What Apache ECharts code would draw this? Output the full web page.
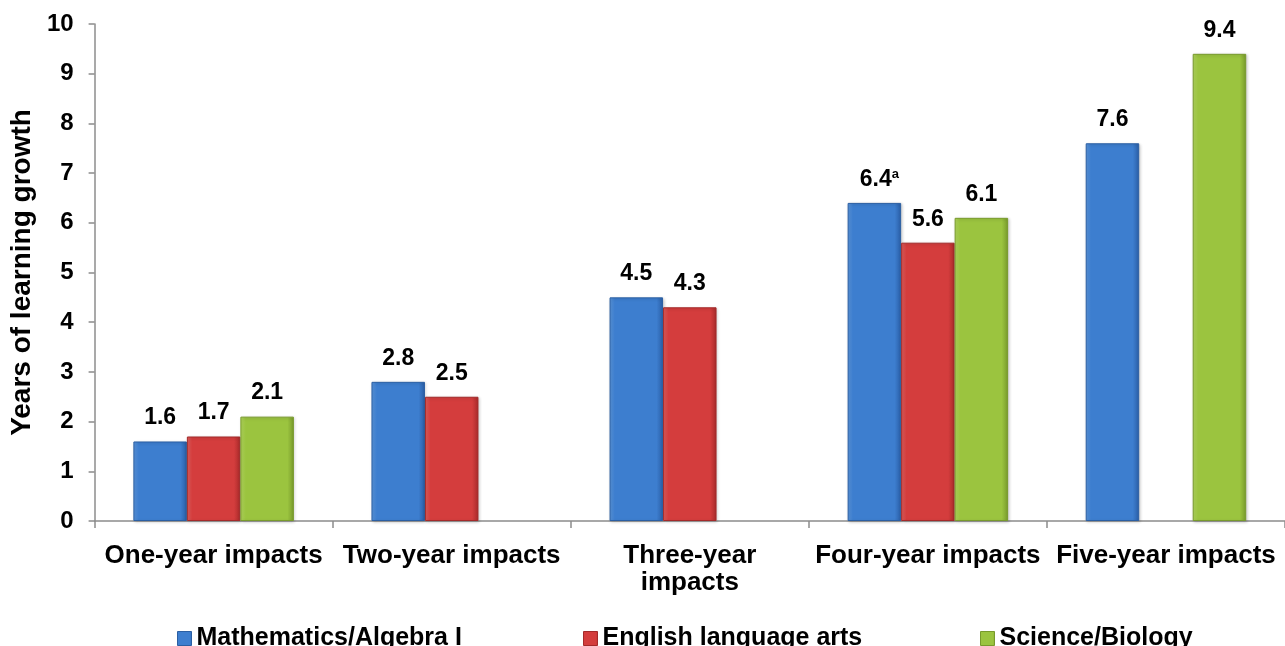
<!DOCTYPE html>
<html>
<head>
<meta charset="utf-8">
<script src="https://cdn.jsdelivr.net/npm/echarts@6/dist/echarts.min.js"></script>
<style>
  html, body { margin: 0; padding: 0; background: #ffffff; }
  #chart { width: 1285px; height: 646px; }
</style>
</head>
<body>
<div id="chart"></div>
<script>
// Impact periods along the horizontal axis
const categories = ['One-year impacts', 'Two-year impacts', 'Three-year\nimpacts', 'Four-year impacts', 'Five-year impacts'];

// Years of learning growth per subject (null = no estimate for that period)
const mathValues    = [1.6, 2.8, 4.5, 6.4, 7.6];
const elaValues     = [1.7, 2.5, 4.3, 5.6, null];
const scienceValues = [2.1, null, null, 6.1, 9.4];

const seriesNames = ['Mathematics/Algebra I', 'English language arts', 'Science/Biology'];

// Value ticks on the vertical axis
const yTicks = [0, 1, 2, 3, 4, 5, 6, 7, 8, 9, 10];

const FONT = '"Liberation Sans", Arial, sans-serif';

// Horizontal shading gives each bar a bevelled look
function barFill(light, mid, dark) {
  return new echarts.graphic.LinearGradient(0, 0, 1, 0, [
    { offset: 0, color: light },
    { offset: 0.1, color: mid },
    { offset: 0.88, color: mid },
    { offset: 1, color: dark }
  ]);
}

const palette = [
  { fill: barFill('#5b97de', '#3d7ecf', '#2a5ea6'), border: '#2b5fa3' },
  { fill: barFill('#e0605f', '#d43d3d', '#a82a2a'), border: '#a32a2a' },
  { fill: barFill('#b3d85e', '#9bc43f', '#789a2c'), border: '#789a2c' }
];

const valueSets = [mathValues, elaValues, scienceValues];

function labelFor(seriesIndex, value, dataIndex) {
  // The four-year mathematics estimate carries footnote "a"
  if (seriesIndex === 0 && dataIndex === 3) return value.toFixed(1) + '{sup|a}';
  return value.toFixed(1);
}

const series = valueSets.map((vals, s) => ({
  name: seriesNames[s],
  type: 'bar',
  barWidth: 53.5,
  barGap: '0%',
  data: vals.map((v, i) => {
    if (v === null) return null;
    const item = { value: v };
    if (s === 0 && i === 3) item.label = { offset: [5, 0] };
    return item;
  }),
  itemStyle: {
    color: palette[s].fill,
    borderColor: palette[s].border,
    borderWidth: 1,
    shadowColor: 'rgba(0,0,0,0.18)',
    shadowBlur: 3,
    shadowOffsetX: 1,
    shadowOffsetY: 1
  },
  label: {
    show: true,
    position: 'top',
    distance: 12,
    fontFamily: FONT,
    fontWeight: 'bold',
    fontSize: 23,
    color: '#000',
    formatter: p => labelFor(s, p.value, p.dataIndex),
    rich: {
      sup: { fontFamily: FONT, fontWeight: 'bold', fontSize: 13, color: '#000', verticalAlign: 'top', padding: [0, 0, 10, 0] }
    }
  }
}));

const legendLefts = [177, 583, 980];
const legends = seriesNames.map((name, i) => ({
  data: [{ name: name, itemStyle: { color: palette[i].fill, borderColor: palette[i].border, borderWidth: 1 } }],
  left: legendLefts[i],
  top: 626,
  padding: 0,
  itemWidth: 14,
  itemHeight: 14,
  icon: 'rect',
  selectedMode: false,
  textStyle: { fontFamily: FONT, fontWeight: 'bold', fontSize: 25, color: '#000' }
}));

const chart = echarts.init(document.getElementById('chart'), null, { renderer: 'canvas' });
chart.setOption({
  animation: false,
  backgroundColor: '#ffffff',
  grid: { left: 91, top: 24, height: 497, width: 1201 },
  legend: legends,
  xAxis: {
    type: 'category',
    data: categories,
    axisLine: { lineStyle: { color: '#8c8c8c', width: 1.5 } },
    axisTick: { show: true, length: 7, lineStyle: { color: '#8c8c8c', width: 1.5 } },
    axisLabel: {
      interval: 0,
      margin: 21,
      fontFamily: FONT,
      fontWeight: 'bold',
      fontSize: 26,
      lineHeight: 27,
      color: '#000'
    },
    splitLine: { show: false }
  },
  yAxis: {
    type: 'value',
    min: yTicks[0],
    max: yTicks[yTicks.length - 1],
    interval: 1,
    name: 'Years of learning growth',
    nameLocation: 'middle',
    nameGap: 55,
    nameRotate: 90,
    nameTextStyle: { fontFamily: FONT, fontWeight: 'bold', fontSize: 28, color: '#000' },
    axisLine: { show: true, lineStyle: { color: '#8c8c8c', width: 1.5 } },
    axisTick: { show: true, length: 6, lineStyle: { color: '#8c8c8c', width: 1.5 } },
    axisLabel: {
      margin: 21,
      fontFamily: FONT,
      fontWeight: 'bold',
      fontSize: 24,
      color: '#000',
      formatter: v => String(v)
    },
    splitLine: { show: false }
  },
  series: series
});
</script>
</body>
</html>
